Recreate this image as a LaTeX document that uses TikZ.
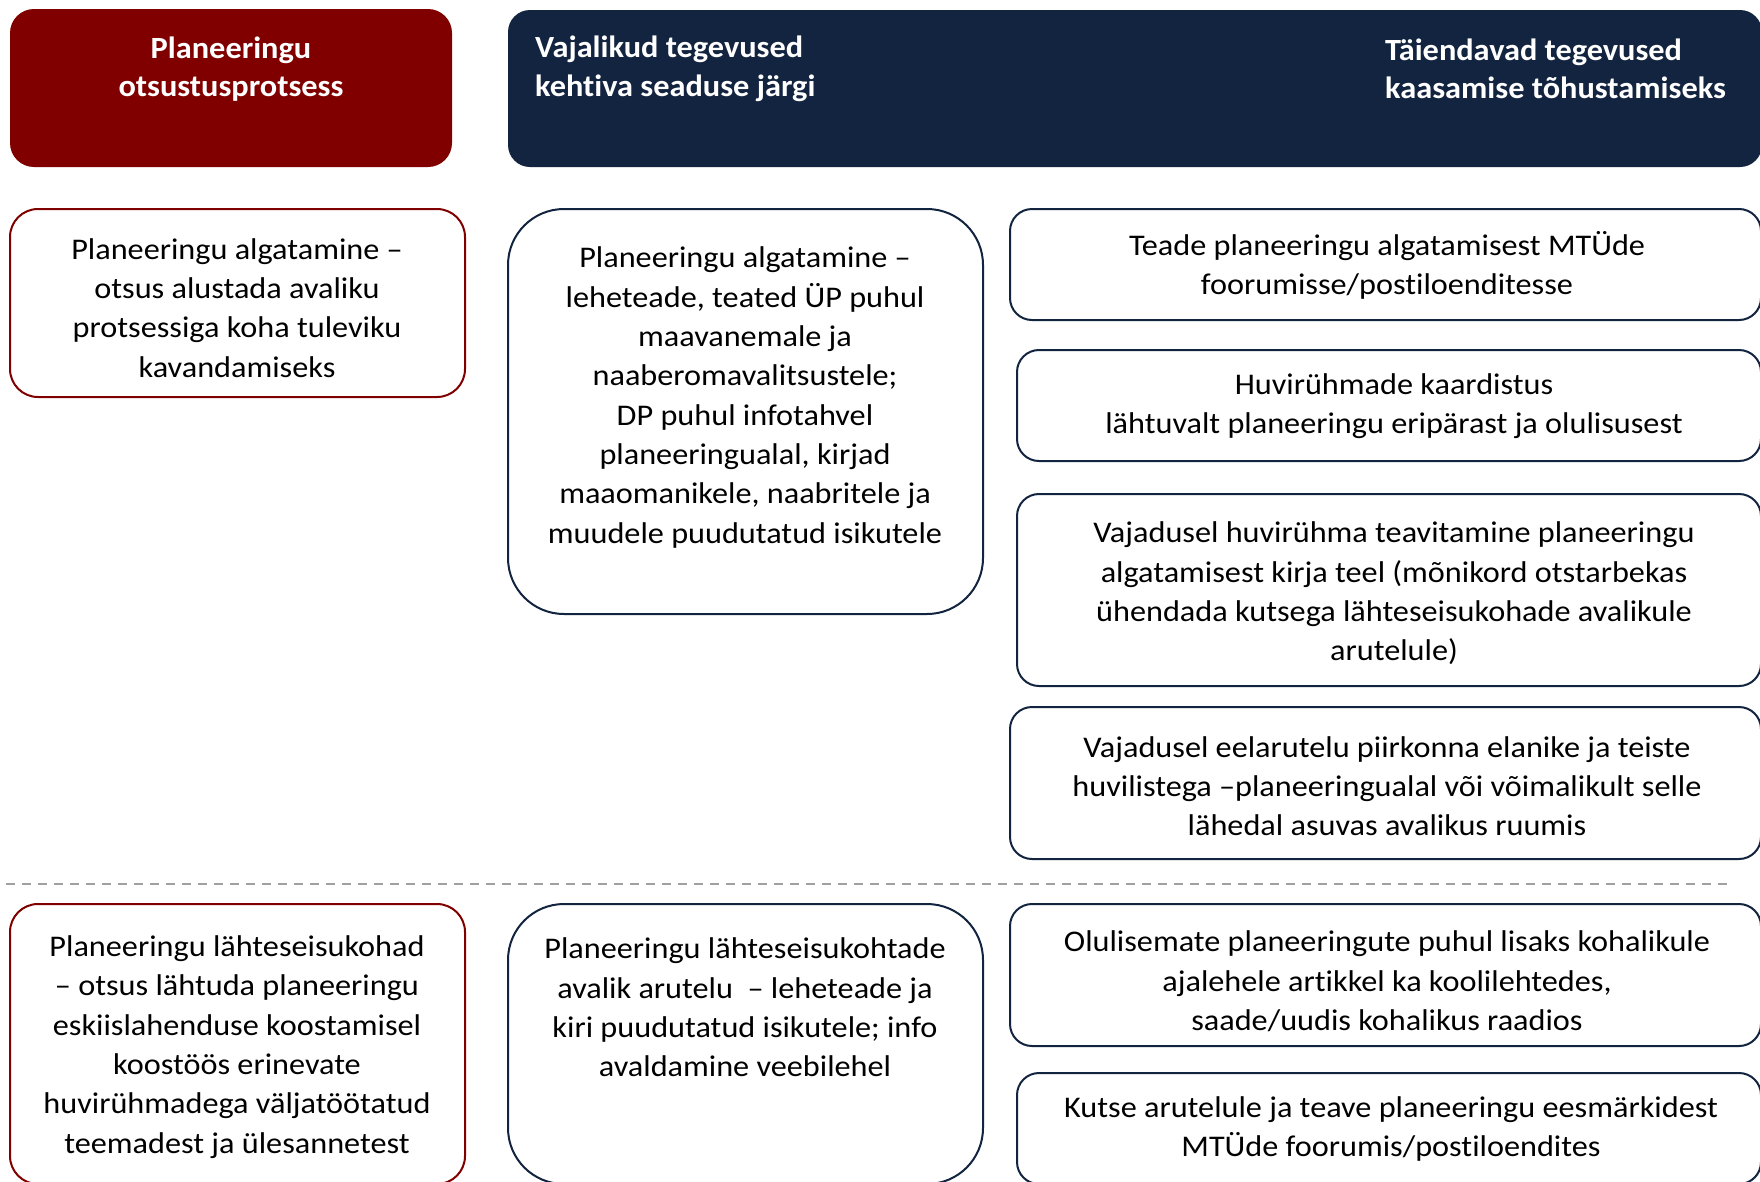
\documentclass[tikz,border=0pt]{standalone}
\usepackage{fontspec}
\setmainfont[FakeStretch=1.05, Ligatures=NoCommon]{Carlito}
\newfontfamily\bodyfont[FakeStretch=1.075, Ligatures=NoCommon]{Carlito}
\definecolor{hdrred}{RGB}{128,0,0}
\definecolor{navy}{RGB}{19,36,64}
\definecolor{dashgray}{RGB}{160,160,160}
\begin{document}
\begin{tikzpicture}[x=1pt,y=-1pt,
  redhdr/.style={fill=hdrred, rounded corners=24pt, inner sep=0pt},
  navyhdr/.style={fill=navy, rounded corners=22pt, inner sep=0pt},
  redbox/.style={draw=hdrred, line width=2pt, rounded corners=28pt, fill=white, inner sep=0pt},
  midbox/.style={draw=navy, line width=2pt, rounded corners=56pt, fill=white, inner sep=0pt},
  rbox/.style={draw=navy, line width=2pt, rounded corners=22pt, fill=white, inner sep=0pt},
  txt/.style={font=\bodyfont\fontsize{30}{39.3}\selectfont, align=center, inner sep=0pt, text=black},
  hdrtxt/.style={font=\bfseries\fontsize{30.8}{38.5}\selectfont, text=white, inner sep=0pt},
  dashline/.style={draw=dashgray, line width=1.8pt, dash pattern=on 9pt off 7pt}
]
\useasboundingbox (0,0) rectangle (1760,1181);
% headers
\node[redhdr, minimum width=442pt, minimum height=158pt] (h1) at (231,88) {};
\node[navyhdr, minimum width=1254pt, minimum height=157pt] (h2) at (1135,88.5) {};
\node[hdrtxt, align=center] (h1t) at (231,69) {Planeeringu\\otsustusprotsess};
\node[hdrtxt, align=left, anchor=west] (h2t) at (535,69) {Vajalikud tegevused\\kehtiva seaduse järgi};
\node[hdrtxt, align=left, anchor=west] (h3t) at (1385,69) {Täiendavad tegevused\\kaasamise tõhustamiseks};
% boxes
\node[redbox, minimum width=455pt, minimum height=188pt] (l1) at (237.5,303) {};
\node[redbox, minimum width=455pt, minimum height=280pt] (l2) at (237.5,1044) {};
\node[midbox, minimum width=475pt, minimum height=405pt] (m1) at (745.5,411.5) {};
\node[midbox, minimum width=475pt, minimum height=280pt] (m2) at (745.5,1044) {};
\node[rbox, minimum width=751pt, minimum height=111pt] (r1) at (1385.5,264.5) {};
\node[rbox, minimum width=744pt, minimum height=111pt] (r2) at (1389,405.5) {};
\node[rbox, minimum width=744pt, minimum height=192pt] (r3) at (1389,590) {};
\node[rbox, minimum width=751pt, minimum height=152pt] (r4) at (1385.5,783) {};
\node[rbox, minimum width=751pt, minimum height=142pt] (r5) at (1385.5,975) {};
\node[rbox, minimum width=744pt, minimum height=111pt] (r6) at (1389,1128.5) {};
% texts
\node[txt] (l1t) at (237,308) {Planeeringu algatamine –\\otsus alustada avaliku\\protsessiga koha tuleviku\\kavandamiseks};
\node[txt] (m1t) at (745,397.5) {Planeeringu algatamine –\\leheteade, teated ÜP puhul\\maavanemale ja\\naaberomavalitsustele;\\DP puhul infotahvel\\planeeringualal, kirjad\\maaomanikele, naabritele ja\\muudele puudutatud isikutele};
\node[txt] (r1t) at (1387,265.5) {Teade planeeringu algatamisest MTÜde\\foorumisse/postiloenditesse};
\node[txt] (r2t) at (1394,406.5) {Huvirühmade kaardistus\\lähtuvalt planeeringu eripärast ja olulisusest};
\node[txt] (r3t) at (1394,593.5) {Vajadusel huvirühma teavitamine planeeringu\\algatamisest kirja teel (mõnikord otstarbekas\\ühendada kutsega lähteseisukohade avalikule\\arutelule)};
\node[txt] (r4t) at (1387,786) {Vajadusel eelarutelu piirkonna elanike ja teiste\\huvilistega –planeeringualal või võimalikult selle\\lähedal asuvas avalikus ruumis};
\node[txt] (l2t) at (237,1047) {Planeeringu lähteseisukohad\\– otsus lähtuda planeeringu\\eskiislahenduse koostamisel\\koostöös erinevate\\huvirühmadega väljatöötatud\\teemadest ja ülesannetest};
\node[txt] (m2t) at (745,1007.5) {Planeeringu lähteseisukohtade\\avalik arutelu \ – leheteade ja\\kiri puudutatud isikutele; info\\avaldamine veebilehel};
\node[txt] (r5t) at (1387,981.5) {Olulisemate planeeringute puhul lisaks kohalikule\\ajalehele artikkel ka koolilehtedes,\\saade/uudis kohalikus raadios};
\node[txt] (r6t) at (1391,1129) {Kutse arutelule ja teave planeeringu eesmärkidest\\MTÜde foorumis/postiloendites};
% dashed separator
\coordinate (d1) at (6,884);
\coordinate (d2) at (1734,884);
\draw[dashline] (d1) -- (d2);
\end{tikzpicture}
\end{document}
